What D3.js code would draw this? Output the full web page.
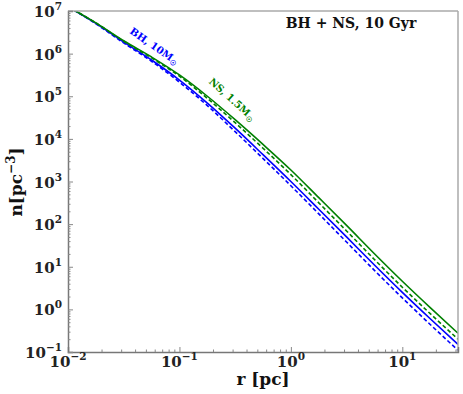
<!DOCTYPE html>
<html><head><meta charset="utf-8">
<script src="https://cdn.jsdelivr.net/npm/d3@7"></script>
<style>body{margin:0;background:#fff}svg{display:block}text{font-family:"DejaVu Serif",serif;font-weight:bold}</style>
</head><body><svg id="c" width="463" height="394"></svg>
<script>
const radii = [0.01, 0.0178, 0.0316, 0.0562, 0.1, 0.178, 0.316, 0.562, 1, 1.78, 3.16, 5.62, 10, 17.8, 31.6];
const bhSolid = [1.26e7, 5.13e6, 1.86e6, 7.08e5, 2.40e5, 6.92e4, 1.78e4, 4.27e3, 1000, 224, 50.1, 11.0, 2.51, 0.603, 0.151];
const bhDashed = [1.26e7, 5.01e6, 1.78e6, 6.61e5, 2.14e5, 6.03e4, 1.48e4, 3.47e3, 794, 174, 38.0, 8.22, 1.86, 0.442, 0.110];
const nsSolid = [1.26e7, 5.25e6, 2.00e6, 8.32e5, 3.16e5, 1.00e5, 2.82e4, 7.41e3, 1.86e3, 417, 93.3, 20.2, 4.57, 1.10, 0.275];
const nsDashed = [1.26e7, 5.25e6, 1.95e6, 7.94e5, 2.95e5, 8.91e4, 2.40e4, 6.03e3, 1.45e3, 316, 69.2, 14.8, 3.31, 0.794, 0.200];
const xTickExps = [-2, -1, 0, 1];
const yTickExps = [-1, 0, 1, 2, 3, 4, 5, 6, 7];
const seriesNames = ["BH solid", "BH dashed", "NS solid", "NS dashed"];
const title = "BH + NS, 10 Gyr";

const svg = d3.select("#c");
const L = 68, R = 458, T = 11, B = 352;
const x = d3.scaleLog().domain([0.01, 31.6]).range([L, R]);
const y = d3.scaleLog().domain([0.1, 1e7]).range([B, T]);

svg.append("clipPath").attr("id", "clip").append("rect")
  .attr("x", L).attr("y", T).attr("width", R - L).attr("height", B - T);

const series = [
  {v: bhSolid, c: "#0000ff", d: null},
  {v: bhDashed, c: "#0000ff", d: "4,2.5"},
  {v: nsSolid, c: "#008000", d: null},
  {v: nsDashed, c: "#008000", d: "4,2.5"}
];
const line = d3.line().x((d, i) => x(radii[i])).y(d => y(d)).curve(d3.curveMonotoneX);
const g = svg.append("g").attr("clip-path", "url(#clip)");
series.forEach(s => {
  g.append("path").attr("d", line(s.v)).attr("fill", "none")
    .attr("stroke", s.c).attr("stroke-width", 1.6)
    .attr("stroke-dasharray", s.d);
});

function lbl(txt, cx, cy, ang, col) {
  const t = svg.append("g").attr("transform", `translate(${cx},${cy}) rotate(${ang})`);
  t.append("rect").attr("x", -24).attr("y", -7).attr("width", 48).attr("height", 13)
    .attr("fill", "#fff").attr("opacity", 0.5);
  const te = t.append("text").attr("text-anchor", "middle").attr("dy", 3.5)
    .attr("font-size", 10).attr("fill", col);
  te.append("tspan").text(txt);
  te.append("tspan").attr("font-size", 7).attr("dy", 2.5).text("\u2609");
}
lbl("BH, 10M", 154, 46, 35, "#0000ff");
lbl("NS, 1.5M", 232, 99, 42, "#008000");

svg.append("line").attr("x1", L).attr("x2", R).attr("y1", T).attr("y2", T).attr("stroke", "#aaa").attr("stroke-width", 1.5);
svg.append("line").attr("x1", R).attr("x2", R).attr("y1", T).attr("y2", B).attr("stroke", "#aaa").attr("stroke-width", 1.5);

const xMinor = [], yMinor = [];
for (let e = -2; e <= 1; e++) for (let k = 2; k <= 9; k++) { const v = k * Math.pow(10, e); if (v <= 31.6) xMinor.push(v); }
for (let e = -1; e <= 6; e++) for (let k = 2; k <= 9; k++) yMinor.push(k * Math.pow(10, e));

const xa = svg.append("g").attr("transform", `translate(0,${B})`)
  .call(d3.axisBottom(x).tickValues(xTickExps.map(e => Math.pow(10, e))).tickSize(-5).tickFormat(""));
const xm = svg.append("g").attr("transform", `translate(0,${B})`)
  .call(d3.axisBottom(x).tickValues(xMinor).tickSize(-2.5).tickFormat(""));
const ya = svg.append("g").attr("transform", `translate(${L},0)`)
  .call(d3.axisLeft(y).tickValues(yTickExps.map(e => Math.pow(10, e))).tickSize(-5).tickFormat(""));
const ym = svg.append("g").attr("transform", `translate(${L},0)`)
  .call(d3.axisLeft(y).tickValues(yMinor).tickSize(-2.5).tickFormat(""));
[xa, xm, ya, ym].forEach(a => {
  a.selectAll("path").attr("stroke", "#777").attr("stroke-width", 1.5);
  a.selectAll("line").attr("stroke", "#888");
});
[xm, ym].forEach(a => a.select("path").remove());

const fmtExp = e => e < 0 ? "\u2212" + Math.abs(e) : String(e);
xTickExps.forEach(e => {
  const t = svg.append("text").attr("x", x(Math.pow(10, e))).attr("y", 367)
    .attr("text-anchor", "middle").attr("font-size", 15).attr("fill", "#222");
  t.append("tspan").text("10");
  t.append("tspan").attr("font-size", 10.5).attr("dy", -7).text(fmtExp(e));
});
yTickExps.forEach(e => {
  const t = svg.append("text").attr("x", 62).attr("y", y(Math.pow(10, e)) + 6)
    .attr("text-anchor", "end").attr("font-size", 15).attr("fill", "#222");
  t.append("tspan").text("10");
  t.append("tspan").attr("font-size", 10.5).attr("dy", -7).text(fmtExp(e));
});

svg.append("text").attr("x", (L + R) / 2).attr("y", 385).attr("text-anchor", "middle")
  .attr("font-size", 17).attr("fill", "#111").text("r [pc]");
const yl = svg.append("text").attr("transform", `translate(22,182) rotate(-90)`)
  .attr("text-anchor", "middle").attr("font-size", 17).attr("fill", "#111");
yl.append("tspan").text("n[pc");
yl.append("tspan").attr("font-size", 12).attr("dy", -7).text("\u22123");
yl.append("tspan").attr("dy", 7).text("]");

svg.append("text").attr("x", 351).attr("y", 28).attr("text-anchor", "middle")
  .attr("font-size", 14).attr("fill", "#111").text(title);
</script></body></html>
